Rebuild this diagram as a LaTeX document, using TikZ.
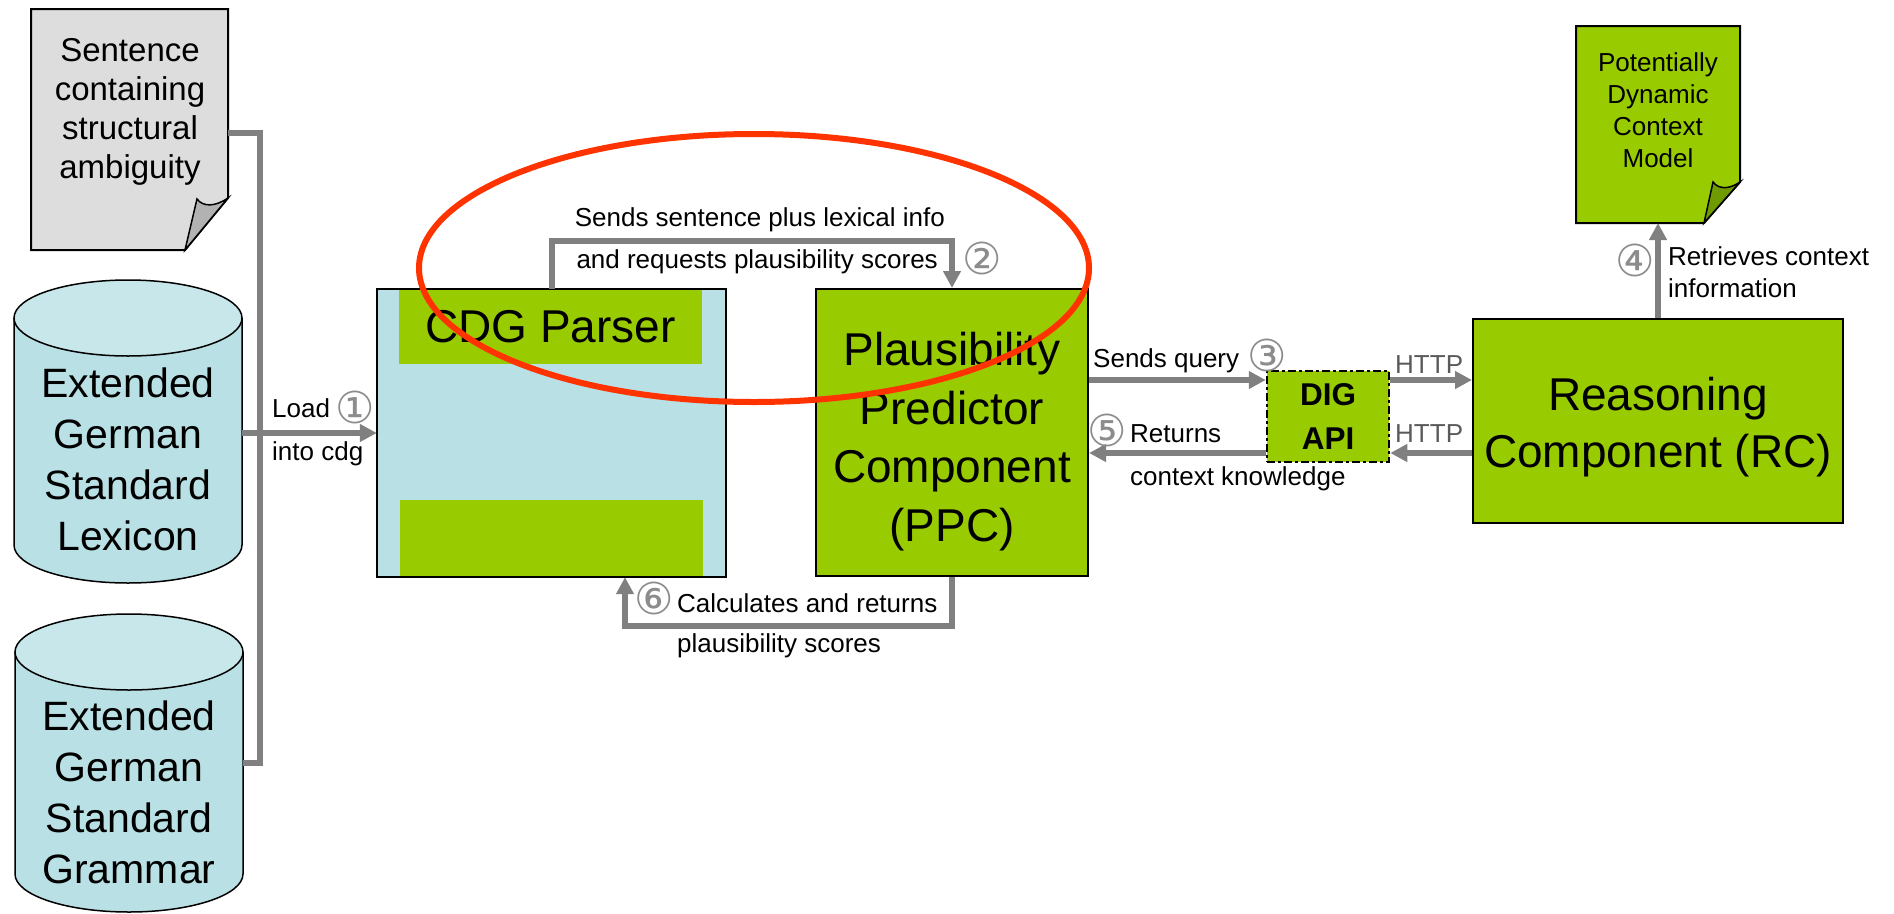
\documentclass[tikz,border=0pt]{standalone}
\usepackage{fontspec}
\setmainfont{Liberation Sans}
\newfontfamily\dejavu{DejaVu Sans}
\usetikzlibrary{arrows.meta}
\definecolor{grn}{HTML}{99CC00}
\definecolor{grndark}{HTML}{6F9A00}
\definecolor{lblue}{HTML}{B9E0E4}
\definecolor{lbluetop}{HTML}{C8E7EA}
\definecolor{docgray}{HTML}{DDDDDD}
\definecolor{foldgray}{HTML}{B2B2B2}
\definecolor{conngray}{HTML}{808080}
\definecolor{numgray}{HTML}{8C8C8C}
\definecolor{httpgray}{HTML}{5A5A5A}
\definecolor{redring}{HTML}{FF3300}
\begin{document}
\begin{tikzpicture}[x=1pt,y=-1pt,
 box/.style={draw=black, line width=2pt, inner sep=0pt},
 conn/.style={draw=conngray, line width=6pt},
 arr/.style={conn, -{Triangle[length=17pt,width=17pt]}},
 lbl/.style={font=\fontsize{26}{30}\selectfont, inner sep=0pt},
 num/.style={font=\dejavu\fontsize{44}{44}\selectfont, text=numgray, inner sep=0pt},
 cyl/.style={draw=black, line width=1.5pt},
 doctext/.style={align=center, inner sep=0pt},
]
\useasboundingbox (0,0) rectangle (1894,913);

% sentence document
\draw[line width=2pt, fill=docgray] (31,9) -- (228,9) -- (228,198) -- (185,250) -- (31,250) -- cycle;
\draw[line width=1.5pt, fill=foldgray] (185,250) -- (197,199) .. controls (203,207) and (215,207) .. (228,198) -- cycle;
\node[doctext, font=\fontsize{33}{39}\selectfont] (senttext) at (130,112) {Sentence\\containing\\structural\\ambiguity};

% lexicon cylinder
\path[cyl, fill=lblue] (14,318) -- (14,545) arc[start angle=180, end angle=360, x radius=114pt, y radius=38pt] -- (242,318);
\draw[cyl, fill=lbluetop] (128,318) ellipse[x radius=114pt, y radius=38pt];
\node[doctext, font=\fontsize{41}{51}\selectfont] (lextext) at (128,459) {Extended\\German\\Standard\\Lexicon};

% grammar cylinder
\path[cyl, fill=lblue] (15,652) -- (15,874) arc[start angle=180, end angle=360, x radius=114pt, y radius=38pt] -- (243,652);
\draw[cyl, fill=lbluetop] (129,652) ellipse[x radius=114pt, y radius=38pt];
\node[doctext, font=\fontsize{41}{51}\selectfont] (gramtext) at (129,792) {Extended\\German\\Standard\\Grammar};

% CDG box
\node[fill=lblue, minimum width=349pt, minimum height=288pt, inner sep=0pt] (cdg) at (551.5,433) {};
\node[fill=grn, minimum width=303pt, minimum height=75pt, inner sep=0pt, font=\fontsize{46}{46}\selectfont] (parser) at (550.5,326.5) {CDG Parser};
\node[fill=grn, minimum width=303pt, minimum height=76pt, inner sep=0pt] (cdglow) at (551,537.5) {};
\draw[line width=2pt] (cdg.south west) rectangle (cdg.north east);

% PPC
\node[box, fill=grn, minimum width=272pt, minimum height=287pt] (ppc) at (952,432.5) {};
\node[doctext, font=\fontsize{46}{58.5}\selectfont] (ppctext) at (952,441.5) {Plausibility\\Predictor\\Component\\(PPC)};

% DIG API
\node[fill=grn, draw=black, line width=2.5pt, dash pattern=on 8pt off 3pt on 3pt off 3pt, minimum width=122pt, minimum height=91pt, inner sep=0pt, font=\bfseries\fontsize{31.5}{44}\selectfont, align=center] (dig) at (1328,416.5) {DIG\\API};

% RC
\node[box, fill=grn, minimum width=370pt, minimum height=204pt] (rc) at (1658,421) {};
\node[doctext, font=\fontsize{46}{57}\selectfont] (rctext) at (1658,427) {Reasoning\\Component (RC)};

% context document
\draw[line width=2pt, fill=grn] (1576,26) -- (1740,26) -- (1740,182) -- (1704,223) -- (1576,223) -- cycle;
\draw[line width=1.5pt, fill=grndark] (1704,223) -- (1713,182) .. controls (1719,190) and (1730,189) .. (1740,182) -- cycle;
\node[doctext, font=\fontsize{26}{32}\selectfont] (ctxtext) at (1658,110) {Potentially\\Dynamic\\Context\\Model};

% connectors
\coordinate (sentR) at (228,133);
\coordinate (gramR) at (243,763);
\coordinate (lexR) at (242,433);
\coordinate (bus) at (260,763);
\draw[conn] (sentR) -| (bus) -- (gramR);
\draw[arr] (lexR) -- (cdg.west);

\coordinate (a2) at (552,241);
\draw[arr] (cdg.north -| a2) -- (a2) -| (ppc.north);

\coordinate (a6) at (625,626);
\draw[arr] (ppc.south) |- (a6) -- (a6 |- cdg.south);

\coordinate (q1) at (1088,380);
\coordinate (q2) at (1473,453);
\draw[arr] (q1 -| ppc.east) -- (q1 -| dig.west);
\draw[arr] (q1 -| dig.east) -- (q1 -| rc.west);
\draw[arr] (q2 -| rc.west) -- (q2 -| dig.east);
\draw[arr] (q2 -| dig.west) -- (q2 -| ppc.east);

\coordinate (ctxB) at (1658,223);
\draw[arr] (rc.north) -- (ctxB);

% labels
\node[lbl, anchor=base west] (l1a) at (272,417) {Load};
\node[num] (n1) at (355,407) {①};
\node[lbl, anchor=base west] (l1b) at (272,460) {into cdg};
\node[lbl, anchor=base east] (l2a) at (945,226) {Sends sentence plus lexical info};
\node[lbl, anchor=base east] (l2b) at (938,268) {and requests plausibility scores};
\node[num] (n2) at (982,258) {②};
\node[lbl, anchor=base west] (l3) at (1093,367) {Sends query};
\node[num] (n3) at (1267,355) {③};
\node[lbl, anchor=base west, text=httpgray] (h1) at (1395,373) {HTTP};
\node[lbl, anchor=base west, text=httpgray] (h2) at (1395,442) {HTTP};
\node[num] (n5) at (1107,430) {⑤};
\node[lbl, anchor=base west] (l5a) at (1130,442) {Returns};
\node[lbl, anchor=base west] (l5b) at (1130,485) {context knowledge};
\node[num] (n4) at (1635,260) {④};
\node[lbl, anchor=base west] (l4a) at (1668,265) {Retrieves context};
\node[lbl, anchor=base west] (l4b) at (1668,297) {information};
\node[num] (n6) at (654,598) {⑥};
\node[lbl, anchor=base west] (l6a) at (677,612) {Calculates and returns};
\node[lbl, anchor=base west] (l6b) at (677,652) {plausibility scores};

% red ring
\draw[redring, line width=6pt] (754,268) ellipse[x radius=335pt, y radius=134pt];
\end{tikzpicture}
\end{document}
